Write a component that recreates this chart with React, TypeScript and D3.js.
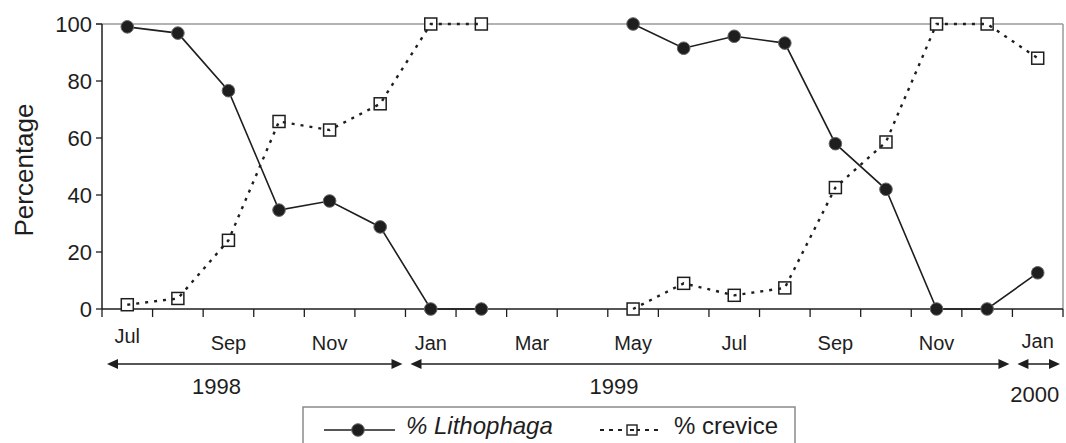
import React from 'react';
import * as d3 from 'd3';

// monthly samples, Jul 1998 - Jan 2000 (Mar/Apr 1999 not sampled)
const months = [
  'Jul-98', 'Aug-98', 'Sep-98', 'Oct-98', 'Nov-98', 'Dec-98',
  'Jan-99', 'Feb-99', 'Mar-99', 'Apr-99', 'May-99', 'Jun-99',
  'Jul-99', 'Aug-99', 'Sep-99', 'Oct-99', 'Nov-99', 'Dec-99', 'Jan-00',
];
const monthLabels = [
  'Jul', '', 'Sep', '', 'Nov', '', 'Jan', '', 'Mar', '', 'May', '',
  'Jul', '', 'Sep', '', 'Nov', '', 'Jan',
];
const lithophaga = [
  99, 96.8, 76.6, 34.7, 37.9, 28.8, 0, 0, null, null, 100, 91.5,
  95.7, 93.3, 58, 42, 0, 0, 12.7,
];
const crevice = [
  1.5, 3.7, 24.1, 65.8, 62.8, 72, 100, 100, null, null, 0, 9,
  4.8, 7.4, 42.6, 58.6, 100, 100, 88,
];
const yTicks = [0, 20, 40, 60, 80, 100];
const years = [
  { label: '1998', from: 'Jul-98', to: 'Dec-98', at: 'Sep-98' },
  { label: '1999', from: 'Jan-99', to: 'Dec-99', at: 'May-99' },
  { label: '2000', from: 'Jan-00', to: 'Jan-00', at: 'Jan-00' },
];

const W = 1066;
const H = 443;
const left = 102;
const right = 1063;
const top = 24;
const bottom = 309;
const font = '"Liberation Sans", Arial, sans-serif';
const ink = '#1e1e1e';

function ArrowHead({ x, y, dir }: { x: number; y: number; dir: number }) {
  const len = 11;
  const hh = 5;
  return <path d={`M${x},${y} L${x - dir * len},${y - hh} L${x - dir * len},${y + hh} Z`} fill={ink} />;
}

export default function App() {
  const x = d3.scaleBand<string>().domain(months).range([left, right]);
  const bw = x.bandwidth();
  const cx = (i: number) => (x(months[i]) as number) + bw / 2;
  const y = d3.scaleLinear().domain([0, 100]).range([bottom, top]);

  const line = d3
    .line<number | null>()
    .defined((d) => d != null)
    .x((_d, i) => cx(i))
    .y((d) => y(d as number));

  const tickXs = months.map((m) => x(m) as number).concat([right]);

  // little nudges to where the year text sat in the original
  const yearDx = [-12, -19, -3];
  const yearBase = [394, 394, 402];

  return (
    <svg width={W} height={H} style={{ position: 'absolute', left: 0, top: 0, background: '#fff' }} fontFamily={font}>
      {/* frame */}
      <line x1={left - 6} x2={right} y1={top} y2={top} stroke="#9a9a9a" strokeWidth={1.5} />
      <line x1={right} x2={right} y1={top} y2={bottom} stroke="#9a9a9a" strokeWidth={1.5} />
      <line x1={left} x2={left} y1={top} y2={bottom} stroke={ink} strokeWidth={1.5} />
      <line x1={left} x2={right} y1={bottom} y2={bottom} stroke={ink} strokeWidth={1.5} />

      {/* y axis */}
      {yTicks.map((t) => (
        <g key={t}>
          <line x1={left - 6} x2={left} y1={y(t)} y2={y(t)} stroke={ink} strokeWidth={1.3} />
          <text x={92} y={y(t)} dy="0.36em" textAnchor="end" fontSize={22} fill={ink}>
            {t}
          </text>
        </g>
      ))}
      <text
        transform={`translate(${33},${170}) rotate(-90)`}
        textAnchor="middle"
        fontSize={26}
        fill={ink}
      >
        Percentage
      </text>

      {/* x axis */}
      {tickXs.map((tx, i) => (
        <line key={i} x1={tx} x2={tx} y1={bottom} y2={bottom + 8} stroke={ink} strokeWidth={1.3} />
      ))}
      {monthLabels.map((l, i) =>
        l ? (
          <text
            key={i}
            x={cx(i)}
            y={i === 0 ? 343 : i === months.length - 1 ? 348 : 350}
            textAnchor="middle"
            fontSize={20}
            fill={ink}
          >
            {l}
          </text>
        ) : null
      )}

      {/* year arrows */}
      {years.map((yr, i) => {
        const x0 = (x(yr.from) as number) + 5;
        const x1 = (x(yr.to) as number) + bw - 3;
        const ay = 364;
        return (
          <g key={yr.label}>
            <line x1={x0 + 6} x2={x1 - 6} y1={ay} y2={ay} stroke={ink} strokeWidth={1.5} />
            <ArrowHead x={x0} y={ay} dir={-1} />
            <ArrowHead x={x1} y={ay} dir={1} />
            <text
              x={(x(yr.at) as number) + bw / 2 + yearDx[i]}
              y={yearBase[i]}
              textAnchor="middle"
              fontSize={22}
              fill={ink}
            >
              {yr.label}
            </text>
          </g>
        );
      })}

      {/* % Lithophaga */}
      <path d={line(lithophaga) || ''} fill="none" stroke={ink} strokeWidth={1.6} />
      {lithophaga.map((v, i) =>
        v == null ? null : (
          <circle key={i} cx={cx(i)} cy={y(v)} r={6.3} fill={ink} stroke="#666" strokeWidth={1} />
        )
      )}

      {/* % crevice */}
      {crevice.map((v, i) =>
        v == null ? null : (
          <rect key={i} x={cx(i) - 6} y={y(v) - 6} width={12} height={12} fill="#fff" stroke={ink} strokeWidth={1.5} />
        )
      )}
      <path d={line(crevice) || ''} fill="none" stroke={ink} strokeWidth={2.4} strokeDasharray="3,6" />

      {/* legend */}
      <rect x={303} y={407} width={492} height={60} fill="#fff" stroke="#8a8a8a" strokeWidth={1.5} />
      <line x1={324} x2={395} y1={430} y2={430} stroke={ink} strokeWidth={1.6} />
      <circle cx={358} cy={430} r={6.3} fill={ink} stroke="#666" strokeWidth={1} />
      <text x={406} y={434} fontSize={24} fontStyle="italic" fill={ink}>
        % Lithophaga
      </text>
      <line x1={600} x2={662} y1={430} y2={430} stroke={ink} strokeWidth={2} strokeDasharray="4,5" />
      <rect x={627} y={425} width={10} height={10} fill="#fff" stroke={ink} strokeWidth={1.4} />
      <line x1={630} x2={634} y1={430} y2={430} stroke={ink} strokeWidth={2} />
      <text x={674} y={434} fontSize={24} fill={ink}>
        % crevice
      </text>
    </svg>
  );
}
